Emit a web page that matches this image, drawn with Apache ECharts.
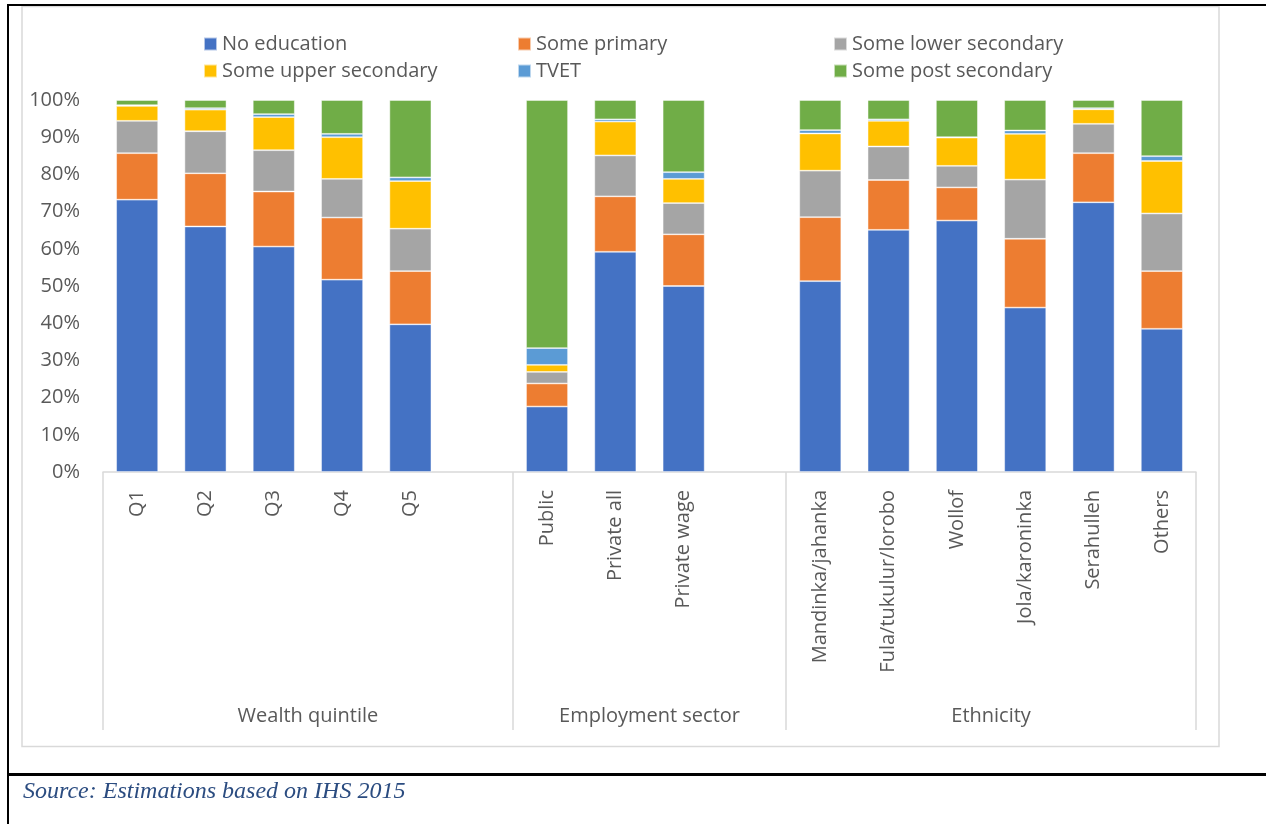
<!DOCTYPE html>
<html>
<head>
<meta charset="utf-8">
<script src="https://cdn.jsdelivr.net/npm/echarts@6/dist/echarts.min.js"></script>
<style>
  html, body { margin: 0; padding: 0; background: #fff; }
  #chart { width: 1266px; height: 824px; }
</style>
</head>
<body>
<div id="chart"></div>
<script>
// ---- data ----
var categories = ['Q1', 'Q2', 'Q3', 'Q4', 'Q5', '', 'Public', 'Private all', 'Private wage', '',
  'Mandinka/jahanka', 'Fula/tukulur/lorobo', 'Wollof', 'Jola/karoninka', 'Serahulleh', 'Others'];
var groupNames = ['Wealth quintile', 'Employment sector', 'Ethnicity'];
var groupCenters = [3, 8, 13];
var groupBounds = [0, 6, 10, 16];

var seriesNames = ['No education', 'Some primary', 'Some lower secondary', 'Some upper secondary', 'TVET', 'Some post secondary'];
var noEducation   = [73.2, 66.0, 60.6, 51.7, 39.7, null, 17.6, 59.2, 50.0, null, 51.3, 65.1, 67.6, 44.2, 72.5, 38.5];
var somePrimary   = [12.5, 14.3, 14.8, 16.7, 14.3, null, 6.2, 14.9, 13.9, null, 17.2, 13.4, 8.9, 18.5, 13.2, 15.5];
var someLowerSec  = [8.7, 11.3, 11.1, 10.4, 11.4, null, 3.1, 11.0, 8.4, null, 12.5, 9.0, 5.8, 15.9, 7.9, 15.5];
var someUpperSec  = [4.0, 5.8, 8.9, 11.2, 12.8, null, 1.9, 9.1, 6.5, null, 10.0, 6.9, 7.6, 12.3, 3.9, 14.1];
var tvet          = [0.2, 0.4, 0.8, 0.9, 1.0, null, 4.5, 0.6, 1.8, null, 0.9, 0.4, 0.1, 0.9, 0.3, 1.3];
var somePostSec   = [1.4, 2.2, 3.8, 9.1, 20.8, null, 66.7, 5.2, 19.4, null, 8.1, 5.2, 10.0, 8.2, 2.2, 15.1];
var seriesData = [noEducation, somePrimary, someLowerSec, someUpperSec, tvet, somePostSec];
var colors = ['#4472C4', '#ED7D31', '#A5A5A5', '#FFC000', '#5B9BD5', '#70AD47'];
var yTicks = [0, 10, 20, 30, 40, 50, 60, 70, 80, 90, 100];

var FONT = '"Open Sans", "Noto Sans", sans-serif';
var TXT = '#595959';

var chart = echarts.init(document.getElementById('chart'), null, { renderer: 'canvas' });

var series = seriesNames.map(function (n, i) {
  return {
    name: n,
    type: 'bar',
    stack: 'total',
    xAxisIndex: 0,
    barWidth: 42,
    itemStyle: { color: colors[i], borderColor: 'rgba(255,255,255,0.6)', borderWidth: 0.8 },
    emphasis: { disabled: true },
    data: seriesData[i]
  };
});

function legendCol(names, left) {
  return {
    orient: 'vertical',
    left: left,
    top: 29,
    itemWidth: 13,
    itemHeight: 13,
    itemGap: 7,
    icon: 'rect',
    selectedMode: false,
    data: names,
    textStyle: { fontFamily: FONT, fontSize: 20, color: TXT }
  };
}

var option = {
  animation: false,
  backgroundColor: '#fff',
  color: colors,
  legend: [
    legendCol(['No education', 'Some upper secondary'], 198),
    legendCol(['Some primary', 'TVET'], 512),
    legendCol(['Some lower secondary', 'Some post secondary'], 828)
  ],
  grid: { left: 103, right: 70, top: 100, bottom: 352, containLabel: false },
  xAxis: [
    {
      type: 'category',
      data: categories,
      position: 'bottom',
      axisLine: { show: true, lineStyle: { color: '#D9D9D9', width: 1.5 } },
      axisTick: { show: false },
      axisLabel: {
        rotate: 90, interval: 0, margin: 18,
        fontFamily: FONT, fontSize: 20, color: TXT
      },
      splitLine: { show: false }
    },
    {
      type: 'value',
      min: 0, max: 16,
      position: 'bottom',
      axisLine: { show: false },
      splitLine: { show: false },
      axisTick: {
        show: true, customValues: groupBounds, length: 258,
        lineStyle: { color: '#D9D9D9', width: 1.5 }
      },
      axisLabel: {
        show: true, customValues: groupCenters, margin: 234,
        fontFamily: FONT, fontSize: 20, color: TXT,
        formatter: function (v) {
          var idx = groupCenters.indexOf(Math.round(v));
          return idx >= 0 ? groupNames[idx] : '';
        }
      }
    }
  ],
  yAxis: {
    type: 'value',
    min: 0, max: 100, interval: 10,
    axisLine: { show: false },
    axisTick: { show: false },
    splitLine: { show: false },
    axisLabel: {
      margin: 23, fontFamily: FONT, fontSize: 20, color: TXT,
      formatter: function (v) { return yTicks.indexOf(v) >= 0 ? v + '%' : ''; }
    }
  },
  graphic: [
    { type: 'rect', silent: true, z: -10, shape: { x: 22, y: 6.5, width: 1197, height: 740 },
      style: { fill: 'none', stroke: '#D9D9D9', lineWidth: 1.5 } },
    { type: 'rect', silent: true, z: 10, shape: { x: 7, y: 4, width: 1259, height: 2 }, style: { fill: '#000' } },
    { type: 'rect', silent: true, z: 10, shape: { x: 7, y: 4, width: 2, height: 820 }, style: { fill: '#000' } },
    { type: 'rect', silent: true, z: 10, shape: { x: 7, y: 773, width: 1259, height: 3 }, style: { fill: '#000' } },
    { type: 'text', silent: true, z: 10, left: 23, top: 780,
      style: { text: 'Source: Estimations based on IHS 2015', fill: '#2B4C80',
        font: 'italic 24px "Liberation Serif", "DejaVu Serif", serif' } }
  ],
  series: series
};

chart.setOption(option);
</script>
</body>
</html>
